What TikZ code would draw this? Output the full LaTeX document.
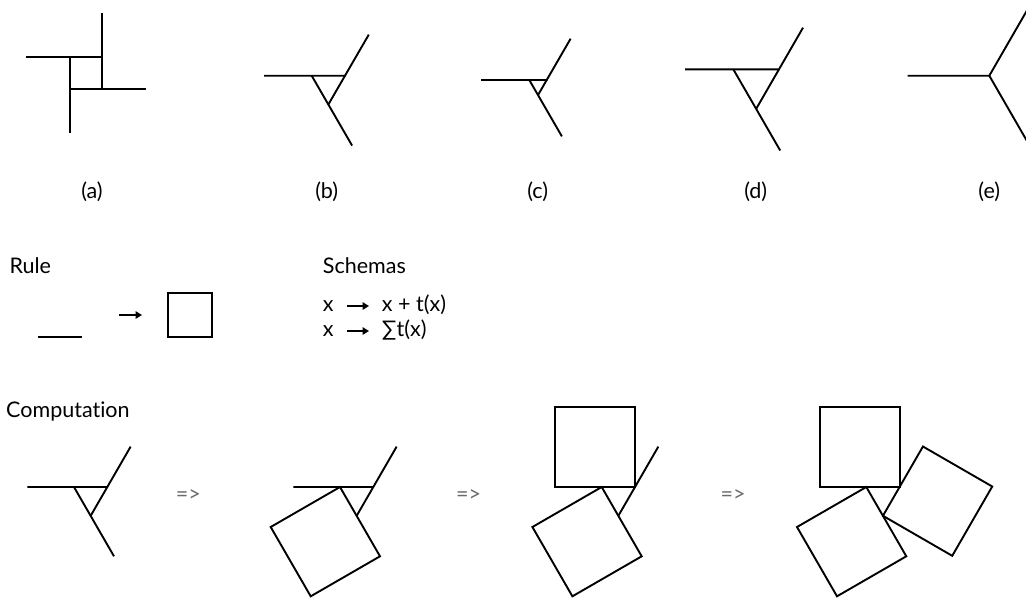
\documentclass[tikz,border=0pt]{standalone}
\usepackage{fontspec}
\setmainfont{Lato}[Ligatures={TeX,NoCommon}]
\usetikzlibrary{arrows.meta}
\begin{document}
\begin{tikzpicture}[x=1pt,y=-1pt,
  ln/.style={line width=1.9pt, line cap=butt, line join=miter},
  txt/.style={inner sep=0pt, font=\fontsize{21.5}{24}\selectfont},
  lbl/.style={txt, anchor=base},
  lft/.style={txt, anchor=base west},
  imp/.style={txt, anchor=base, text=black!58},
  arr/.style={line width=2pt, -{Triangle[length=6.5pt,width=7.5pt]}}]
\clip (0,0) rectangle (1026,598);
% ---------- (a)
\draw[ln] (26,57) -- (102,57);
\draw[ln] (102,13) -- (102,89);
\draw[ln] (70,57) -- (70,133);
\draw[ln] (70,89) -- (146,89);
% ---------- (b)
\draw[ln] (264.2,75.7) -- (345,75.7) -- (368.8,34.6);
\draw[ln] (311.7,75.7) -- (352.1,145.6);
\draw[ln] (345,75.7) -- (328.35,104.5);
% ---------- (c)
\draw[ln] (481,80) -- (546.7,80) -- (570.6,38.7);
\draw[ln] (529.3,80) -- (561.9,136.4);
\draw[ln] (546.7,80) -- (538,95.1);
% ---------- (d)
\draw[ln] (685,69.3) -- (779,69.3) -- (803,27.7);
\draw[ln] (733.3,69.3) -- (780.2,150.5);
\draw[ln] (779,69.3) -- (756.15,108.9);
% ---------- (e)
\draw[ln] (907.7,75.7) -- (989.3,75.7) -- (1030.1,5);
\draw[ln] (989.3,75.7) -- (1030.1,146.4);
% labels
\node[lbl] (la) at (92,198) {(a)};
\node[lbl] (lb) at (326.7,198) {(b)};
\node[lbl] (lc) at (537.7,198) {(c)};
\node[lbl] (ld) at (755.7,198) {(d)};
\node[lbl] (le) at (989.3,198) {(e)};
% ---------- Rule
\node[lft] (rule) at (9.3,273.3) {Rule};
\draw[ln] (38,337) -- (82,337);
\coordinate (ra1) at (119,315);
\coordinate (ra2) at (142,315);
\draw[arr] (ra1) -- (ra2);
\draw[ln] (168,293) rectangle (212,337);
% ---------- Schemas
\node[lft] (schemas) at (322.7,273.3) {Schemas};
\node[lft] (x1) at (322.7,311.5) {x};
\node[lft] (r1) at (381.7,311.5) {x + t(x)};
\node[lft] (x2) at (322.7,336) {x};
\node[lft] (r2) at (381.7,336) {∑t(x)};
\coordinate (sa1) at (347,306);
\coordinate (sa2) at (369,306);
\coordinate (sb1) at (347,331);
\coordinate (sb2) at (369,331);
\draw[arr] (sa1) -- (sa2);
\draw[arr] (sb1) -- (sb2);
% ---------- Computation
\node[lft] (comp) at (6,417.7) {Computation};
\node[imp] (i1) at (188.3,501) {=>};
\node[imp] (i2) at (468.6,501) {=>};
\node[imp] (i3) at (733,501) {=>};
% fig 1
\draw[ln] (27.3,487) -- (107.3,487) -- (130.65,446.6);
\draw[ln] (74,487) -- (114,556.3);
\draw[ln] (107.3,487) -- (90.65,515.8);
% fig 2
\draw[ln] (293.3,487) -- (373.3,487) -- (396.65,446.6);
\draw[ln] (373.3,487) -- (356.65,515.8);
\draw[ln] (340,487) -- (380,556.3) -- (310.7,596.3) -- (270.7,527) -- cycle;
% fig 3
\draw[ln] (555,407) rectangle (635,487);
\draw[ln] (635,487) -- (658.35,446.6);
\draw[ln] (635,487) -- (618.35,515.8);
\draw[ln] (601.7,487) -- (641.7,556.3) -- (572.4,596.3) -- (532.4,527) -- cycle;
% fig 4
\draw[ln] (820,407) rectangle (900,487);
\draw[ln] (866.3,487) -- (906.3,556.3) -- (837,596.3) -- (797,527) -- cycle;
\draw[ln] (882.95,515.8) -- (922.95,446.5) -- (992.23,486.5) -- (952.23,555.8) -- cycle;
\end{tikzpicture}
\end{document}
